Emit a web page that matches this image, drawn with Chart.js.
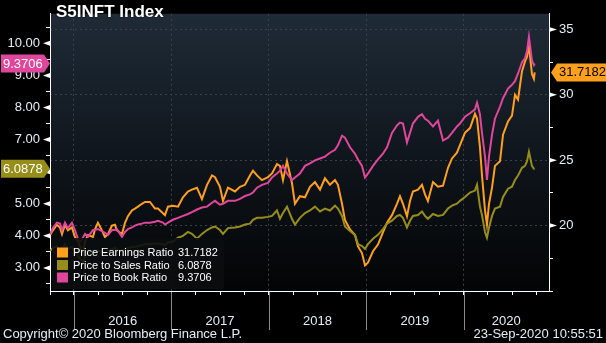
<!DOCTYPE html>
<html>
<head>
<meta charset="utf-8">
<script src="https://cdn.jsdelivr.net/npm/chart.js@4/dist/chart.umd.min.js"></script>
<style>
  html, body { margin: 0; padding: 0; background: #000; }
  canvas { display: block; }
</style>
</head>
<body>
<canvas id="js--chart--1" width="606" height="343"></canvas>
<script>
// S5INFT valuation ratios (decimal years)
const dates = [
    2015.754, 2015.784, 2015.825, 2015.856, 2015.877, 2015.908, 2015.938, 2015.979, 2016.010, 2016.041,
    2016.062, 2016.092, 2016.113, 2016.144, 2016.195, 2016.216, 2016.246, 2016.287, 2016.318, 2016.349,
    2016.390, 2016.421, 2016.441, 2016.493, 2016.524, 2016.554, 2016.595, 2016.626, 2016.657, 2016.698,
    2016.729, 2016.780, 2016.832, 2016.862, 2016.914, 2016.934, 2016.965, 2017.016, 2017.068, 2017.119,
    2017.170, 2017.211, 2017.263, 2017.314, 2017.366, 2017.417, 2017.448, 2017.499, 2017.530, 2017.581,
    2017.653, 2017.704, 2017.756, 2017.807, 2017.838, 2017.879, 2017.930, 2017.992, 2018.033, 2018.084,
    2018.115, 2018.146, 2018.187, 2018.238, 2018.269, 2018.320, 2018.372, 2018.423, 2018.474, 2018.526,
    2018.577, 2018.628, 2018.680, 2018.710, 2018.752, 2018.782, 2018.834, 2018.885, 2018.916, 2018.957,
    2018.988, 2019.018, 2019.070, 2019.121, 2019.172, 2019.214, 2019.265, 2019.316, 2019.347, 2019.378,
    2019.419, 2019.450, 2019.480, 2019.532, 2019.573, 2019.604, 2019.634, 2019.686, 2019.737, 2019.789,
    2019.840, 2019.881, 2019.932, 2019.963, 2020.014, 2020.066, 2020.117, 2020.138, 2020.168, 2020.189,
    2020.220, 2020.240, 2020.261, 2020.292, 2020.322, 2020.374, 2020.405, 2020.456, 2020.497, 2020.528,
    2020.559, 2020.600, 2020.630, 2020.651, 2020.671, 2020.702, 2020.722, 2020.730
];

const peRatio = [
    19.28, 19.64, 20.07, 19.86, 19.35, 20.07, 19.64, 19.86, 19.13, 18.77,
    18.41, 17.83, 18.77, 19.28, 19.13, 19.71, 20.22, 19.64, 19.13, 19.35,
    20.00, 20.07, 19.64, 19.35, 20.22, 20.72, 21.16, 21.30, 21.45, 21.67,
    21.81, 21.81, 21.30, 21.30, 20.94, 20.80, 21.45, 21.52, 21.45, 22.17,
    22.61, 22.75, 22.90, 22.03, 23.12, 23.84, 23.70, 22.97, 21.88, 22.90,
    22.61, 22.97, 23.12, 23.84, 24.20, 23.84, 23.48, 23.70, 23.99, 24.71,
    24.57, 23.48, 24.93, 23.26, 21.67, 22.25, 22.17, 22.97, 23.33, 22.75,
    23.62, 23.12, 23.48, 23.12, 21.67, 20.43, 19.71, 19.28, 18.41, 17.90,
    16.96, 17.17, 18.04, 18.55, 19.49, 20.22, 20.80, 21.67, 22.25, 21.67,
    20.72, 21.88, 22.61, 22.75, 23.12, 22.39, 21.88, 23.33, 22.97, 23.05,
    24.42, 25.14, 25.58, 26.16, 27.10, 27.46, 28.55, 28.19, 26.01, 23.84,
    21.16, 20.07, 21.67, 22.90, 24.57, 24.93, 26.96, 27.97, 28.41, 30.00,
    29.64, 31.81, 32.54, 32.90, 33.77, 31.59, 31.23, 31.7182
];

const psRatio = [
    3.53, 3.62, 3.68, 3.53, 3.59, 3.74, 3.59, 3.65, 3.53, 3.38,
    3.29, 3.18, 3.35, 3.47, 3.53, 3.47, 3.53, 3.50, 3.44, 3.53,
    3.59, 3.62, 3.56, 3.53, 3.59, 3.62, 3.65, 3.65, 3.68, 3.71,
    3.74, 3.74, 3.76, 3.76, 3.74, 3.71, 3.79, 3.82, 3.94, 4.00,
    4.12, 4.06, 3.91, 4.06, 4.18, 4.26, 4.29, 4.18, 4.06, 4.24,
    4.26, 4.29, 4.35, 4.38, 4.50, 4.56, 4.56, 4.59, 4.62, 4.79,
    4.53, 4.71, 4.91, 4.53, 4.35, 4.56, 4.71, 4.79, 4.91, 4.76,
    4.85, 4.79, 4.94, 4.85, 4.62, 4.29, 4.15, 4.03, 3.74, 3.68,
    3.59, 3.74, 3.91, 4.03, 4.21, 4.38, 4.47, 4.62, 4.65, 4.56,
    4.26, 4.47, 4.62, 4.65, 4.76, 4.62, 4.53, 4.68, 4.62, 4.65,
    4.85, 4.94, 5.00, 5.09, 5.21, 5.35, 5.41, 5.59, 4.91, 4.65,
    4.12, 3.94, 4.26, 4.62, 4.85, 4.91, 5.21, 5.47, 5.53, 5.74,
    5.88, 6.12, 6.18, 6.32, 6.62, 6.18, 6.09, 6.0878
];

const pbRatio = [
    4.06, 4.24, 4.41, 4.38, 4.18, 4.41, 4.24, 4.41, 4.18, 3.91,
    3.82, 3.94, 4.06, 3.97, 4.18, 4.18, 4.21, 4.15, 4.09, 4.03,
    4.18, 4.18, 4.21, 3.97, 4.12, 4.21, 4.26, 4.32, 4.35, 4.38,
    4.41, 4.41, 4.44, 4.47, 4.41, 4.35, 4.41, 4.50, 4.56, 4.62,
    4.68, 4.74, 4.82, 4.88, 4.91, 5.03, 5.09, 4.97, 5.00, 5.09,
    5.09, 5.15, 5.24, 5.29, 5.35, 5.50, 5.59, 5.65, 5.82, 5.94,
    6.03, 6.18, 5.94, 5.74, 5.82, 5.94, 6.18, 6.26, 6.35, 6.41,
    6.47, 6.59, 6.68, 6.82, 7.12, 7.06, 6.76, 6.56, 6.38, 6.18,
    5.82, 5.94, 6.18, 6.38, 6.56, 6.76, 7.21, 7.44, 7.53, 7.50,
    6.91, 7.21, 7.50, 7.71, 7.79, 7.65, 7.59, 7.41, 7.59, 6.97,
    7.06, 7.21, 7.41, 7.50, 7.71, 7.82, 7.94, 8.15, 7.79, 7.21,
    6.47, 5.74, 6.47, 7.15, 7.65, 8.03, 8.29, 8.59, 8.71, 8.82,
    9.06, 9.41, 9.53, 9.76, 10.21, 9.47, 9.32, 9.3706
];

const seriesNames = ["Price Earnings Ratio", "Price to Sales Ratio", "Price to Book Ratio"];
const seriesColors = ["#ffa01c", "#968e18", "#e0469c"];
const leftTicks = [2.5, 3, 3.5, 4, 4.5, 5, 5.5, 6, 6.5, 7, 7.5, 8, 8.5, 9, 9.5, 10, 10.5];
const rightTicks = [15, 17.5, 20, 22.5, 25, 27.5, 30, 32.5, 35];
const quarterTicks = [2015.754, 2016, 2016.25, 2016.5, 2016.75, 2017, 2017.25, 2017.5, 2017.75,
    2018, 2018.25, 2018.5, 2018.75, 2019, 2019.25, 2019.5, 2019.75, 2020, 2020.25, 2020.5, 2020.75];
const years = [2016, 2017, 2018, 2019, 2020];

const X_MIN = 2015.754, X_MAX = 2020.877;
const FONT = "'Liberation Sans', Arial, sans-serif";
const TXT = "#e6edf5";
const NONE = "rgba(0,0,0,0)";

function toPoints(values) {
    return dates.map(function (d, i) { return { x: d, y: values[i] }; });
}

// box with an arrow point, for the last-value tags on the axes
function tag(ctx, x1, x2, yc, tipX, color) {
    ctx.fillStyle = color;
    ctx.beginPath();
    if (tipX > x2) {
        ctx.moveTo(x1, yc - 9); ctx.lineTo(x2, yc - 9); ctx.lineTo(tipX, yc);
        ctx.lineTo(x2, yc + 9); ctx.lineTo(x1, yc + 9);
    } else {
        ctx.moveTo(x2, yc - 9); ctx.lineTo(x1, yc - 9); ctx.lineTo(tipX, yc);
        ctx.lineTo(x1, yc + 9); ctx.lineTo(x2, yc + 9);
    }
    ctx.closePath();
    ctx.fill();
}

const bbgPlugin = {
    id: "bbg",
    beforeDraw(chart) {
        const ctx = chart.ctx, a = chart.chartArea;
        ctx.save();
        ctx.fillStyle = "#000";
        ctx.fillRect(0, 0, chart.width, chart.height);
        const g = ctx.createLinearGradient(0, a.top, 0, a.bottom);
        g.addColorStop(0, "#1f2b37");
        g.addColorStop(0.5, "#10161d");
        g.addColorStop(1, "#030405");
        ctx.fillStyle = g;
        ctx.fillRect(a.left, a.top, a.right - a.left, a.bottom - a.top);
        ctx.restore();
    },
    afterDatasetsDraw(chart) {
        const ctx = chart.ctx;
        const last = [peRatio[peRatio.length - 1], psRatio[psRatio.length - 1], pbRatio[pbRatio.length - 1]];
        ctx.save();
        // legend
        ctx.fillStyle = "rgba(11,13,16,0.9)";
        ctx.beginPath();
        ctx.roundRect(52, 238, 172, 51, 3);
        ctx.fill();
        ctx.font = "11px " + FONT;
        ctx.textBaseline = "middle";
        for (let i = 0; i < 3; i++) {
            const yc = 252.5 + i * 12.5;
            ctx.fillStyle = seriesColors[i];
            ctx.fillRect(57, yc - 5, 11, 10);
            ctx.fillStyle = "#fff";
            ctx.fillText(seriesNames[i], 73, yc + 0.5);
            ctx.fillText(last[i].toFixed(4), 178, yc + 0.5);
        }
        // title
        ctx.font = "bold 17px " + FONT;
        ctx.shadowColor = "#000";
        ctx.shadowBlur = 2;
        ctx.fillStyle = "#fff";
        ctx.fillText("S5INFT Index", 56, 12);
        ctx.restore();
    },
    afterDraw(chart) {
        const ctx = chart.ctx, a = chart.chartArea;
        const x = chart.scales.x, yL = chart.scales.yL, yR = chart.scales.yR;
        ctx.save();
        // pointers at the labelled ticks
        ctx.fillStyle = "#fff";
        leftTicks.forEach(function (v) {
            if (!Number.isInteger(v)) return;
            const p = yL.getPixelForValue(v);
            ctx.beginPath();
            ctx.moveTo(a.left, p - 2.5); ctx.lineTo(a.left - 7, p); ctx.lineTo(a.left, p + 2.5);
            ctx.fill();
        });
        rightTicks.forEach(function (v) {
            if (v % 5 !== 0 || v <= 15) return;
            const p = yR.getPixelForValue(v);
            ctx.beginPath();
            ctx.moveTo(a.right, p - 2.5); ctx.lineTo(a.right + 8, p); ctx.lineTo(a.right, p + 2.5);
            ctx.fill();
        });
        // year separators and labels
        ctx.strokeStyle = "#8a8a8a";
        ctx.lineWidth = 1;
        ctx.font = "13px " + FONT;
        ctx.textAlign = "center";
        ctx.textBaseline = "middle";
        years.forEach(function (yr) {
            const px = Math.round(x.getPixelForValue(yr)) + 0.5;
            ctx.beginPath();
            ctx.moveTo(px, a.bottom + 1); ctx.lineTo(px, a.bottom + 39);
            ctx.stroke();
            const mid = (yr + Math.min(yr + 1, X_MAX)) / 2;
            ctx.fillStyle = TXT;
            ctx.fillText(String(yr), x.getPixelForValue(mid), 321);
        });
        // footer
        ctx.textAlign = "left";
        ctx.fillText("Copyright\u00a9 2020 Bloomberg Finance L.P.", 3, 334);
        ctx.textAlign = "right";
        ctx.fillText("23-Sep-2020 10:55:51", 603, 334);
        // last value tags
        ctx.font = "13px " + FONT;
        const pb = pbRatio[pbRatio.length - 1], ps = psRatio[psRatio.length - 1], pe = peRatio[peRatio.length - 1];
        let yc = yL.getPixelForValue(pb);
        tag(ctx, 1, 44, yc, 50, seriesColors[2]);
        ctx.textAlign = "left"; ctx.fillStyle = "#fff";
        ctx.fillText(pb.toFixed(4), 3, yc + 0.5);
        yc = yL.getPixelForValue(ps);
        tag(ctx, 1, 44, yc, 50, seriesColors[1]);
        ctx.fillStyle = "#fff";
        ctx.fillText(ps.toFixed(4), 3, yc + 0.5);
        yc = yR.getPixelForValue(pe);
        tag(ctx, 557, 606, yc, 551, seriesColors[0]);
        ctx.fillStyle = "#000";
        ctx.fillText(pe.toFixed(4), 559, yc + 0.5);
        ctx.restore();
    }
};

const data = {
    datasets: [
        { label: seriesNames[0], data: toPoints(peRatio), yAxisID: "yR", borderColor: seriesColors[0], order: 3 },
        { label: seriesNames[1], data: toPoints(psRatio), yAxisID: "yL", borderColor: seriesColors[1], order: 2 },
        { label: seriesNames[2], data: toPoints(pbRatio), yAxisID: "yL", borderColor: seriesColors[2], order: 1 },
    ]
};

const config = {
    type: "line",
    data: data,
    options: {
        responsive: false,
        animation: false,
        devicePixelRatio: 1,
        layout: { padding: 0 },
        elements: {
            line: { borderWidth: 2, tension: 0 },
            point: { radius: 0 }
        },
        plugins: { legend: { display: false }, tooltip: { enabled: false } },
        scales: {
            x: {
                type: "linear",
                min: X_MIN,
                max: X_MAX,
                afterBuildTicks: function (axis) { axis.ticks = quarterTicks.map(function (v) { return { value: v }; }); },
                afterFit: function (axis) { axis.height = 52; },
                ticks: { display: false },
                grid: {
                    color: function (c) { return c.tick && Number.isInteger(c.tick.value) ? "#3a4047" : NONE; },
                    tickColor: "#fff",
                    tickLength: 4,
                    tickBorderDash: [100, 0]
                },
                border: { color: "#fff", width: 1, dash: [2, 3] }
            },
            yL: {
                position: "left",
                min: 2.28,
                max: 10.92,
                afterBuildTicks: function (axis) { axis.ticks = leftTicks.map(function (v) { return { value: v }; }); },
                afterFit: function (axis) { axis.width = 50; },
                ticks: {
                    autoSkip: false,
                    padding: 6,
                    color: TXT,
                    font: { family: FONT, size: 13 },
                    callback: function (v) { return Number.isInteger(v) ? v.toFixed(2) : ""; }
                },
                grid: { drawOnChartArea: false, tickColor: "#fff", tickLength: 4 },
                border: { color: "#fff", width: 1 }
            },
            yR: {
                position: "right",
                min: 15,
                max: 36.2,
                afterBuildTicks: function (axis) { axis.ticks = rightTicks.map(function (v) { return { value: v }; }); },
                afterFit: function (axis) { axis.width = 57; },
                ticks: {
                    autoSkip: false,
                    padding: 6,
                    color: TXT,
                    font: { family: FONT, size: 13 },
                    callback: function (v) { return v % 5 === 0 && v > 15 ? String(v) : ""; }
                },
                grid: {
                    color: function (c) { return c.tick && c.tick.value % 5 === 0 && c.tick.value > 15 ? "#3a4047" : NONE; },
                    tickColor: "#fff",
                    tickLength: 4,
                    tickBorderDash: [100, 0]
                },
                border: { color: "#fff", width: 1, dash: [2, 3] }
            }
        }
    },
    plugins: [bbgPlugin]
};

new Chart(document.getElementById("js--chart--1"), config);
</script>
</body>
</html>
